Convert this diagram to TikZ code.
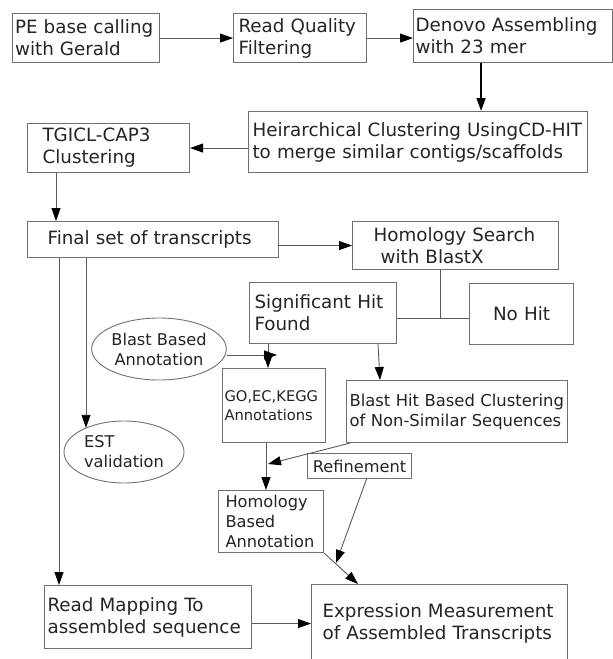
\documentclass[tikz,border=0pt]{standalone}
\usepackage{fontspec}
\setmainfont{DejaVu Sans}
\usetikzlibrary{arrows.meta,shapes.geometric}
\definecolor{boxline}{HTML}{707070}
\definecolor{wire}{HTML}{5A5A5A}
\definecolor{ink}{HTML}{242424}
\hyphenpenalty=10000
\exhyphenpenalty=10000
\newcommand{\bigtxt}{\fontsize{18.3}{22}\selectfont}
\newcommand{\smalltxt}{\fontsize{16.2}{20}\selectfont}
\tikzset{
  box/.style={draw=boxline, line width=1.1pt, rectangle, anchor=north west, align=left, text=ink, font=\bigtxt, inner ysep=0pt},
  oval/.style={draw=boxline, line width=0.9pt, ellipse, inner sep=0pt, text=ink, font=\smalltxt},
  arr/.style={draw=wire, line width=0.9pt, -{Triangle[length=13pt,width=9pt,color=black]}},
  wire/.style={draw=wire, line width=0.9pt},
}
\begin{document}
\begin{tikzpicture}[x=1pt,y=-1pt]
\useasboundingbox (0,0) rectangle (613,659);
\node[box, text width=142pt, inner xsep=2.5pt, minimum height=49pt] (pe) at (12,13) {PE base calling\\with Gerald};
\node[box, text width=123pt, inner xsep=5pt, minimum height=49pt] (rq) at (233,13) {Read Quality\\Filtering};
\node[box, text width=195pt, inner xsep=2pt, minimum height=53pt] (dn) at (413,9) {Denovo Assembling\\with 23 mer};
\node[box, text width=331pt, inner xsep=4pt, minimum height=61pt] (hc) at (248,111) {Heirarchical Clustering UsingCD-HIT\\to merge similar contigs/scaffolds};
\node[box, text width=132pt, inner xsep=15pt, minimum height=49pt] (tg) at (27,123) {TGICL-CAP3\\Clustering};
\node[box, text width=211pt, inner xsep=20pt, minimum height=36pt] (fs) at (27,221) {Final set of transcripts};
\node[box, text width=164pt, inner xsep=21pt, minimum height=48pt] (hs) at (352,221) {Homology Search\\\hspace*{7pt}with BlastX};
\node[box, text width=137pt, inner xsep=5pt, minimum height=61pt] (sh) at (249,282) {Significant Hit\\Found};
\node[box, text width=94pt, inner xsep=5pt, minimum height=61pt, align=center] (nh) at (469,283) {No Hit};
\node[oval, minimum width=118pt, minimum height=62pt, align=center] (bba) at (159,349) {Blast Based\\Annotation};
\node[box, text width=99pt, inner xsep=2pt, minimum height=74pt, font=\fontsize{14.7}{19}\selectfont] (go) at (222,368) {GO,EC,KEGG\\Annotations};
\node[box, text width=215pt, inner xsep=3pt, minimum height=62pt, font=\fontsize{16.4}{20}\selectfont] (bh) at (346,380) {Blast Hit Based Clustering\\of Non-Similar Sequences};
\node[oval, minimum width=120pt, minimum height=62pt, align=left] (est) at (124,452) {EST\\validation};
\node[box, minimum width=104pt, minimum height=25pt, inner xsep=0pt, align=center, font=\smalltxt] (ref) at (307,453) {Refinement};
\node[box, text width=91pt, inner xsep=7pt, minimum height=62pt, font=\smalltxt] (hba) at (218,490) {Homology\\Based\\Annotation};
\node[box, text width=201pt, inner xsep=3pt, minimum height=63pt] (rm) at (44,585) {Read Mapping To\\assembled sequence};
\node[box, text width=234pt, inner xsep=11pt, minimum height=78pt] (em) at (311,584) {Expression Measurement\\of Assembled Transcripts};
\coordinate (split) at (440,318);
\coordinate (bbaend) at (277,355);
\coordinate (mrg) at (268,464);
\coordinate (refend) at (336,563);
\draw[arr] (pe.east) -- (rq.west);
\draw[arr] (rq.east) -- (rq.east -| dn.west);
\draw[arr, draw=black, line width=1.6pt] ([xshift=-32pt]dn.south) -- ([xshift=-32pt]dn.south |- hc.north);
\draw[arr] (hc.west |- tg.east) -- (tg.east);
\draw[arr] ([xshift=29pt]tg.south west) -- ([xshift=29pt]tg.south west |- fs.north);
\draw[arr] (fs.east |- hs.west) -- (hs.west);
\draw[wire] (hs.south -| split) -- (split);
\draw[wire] (sh.east |- split) -- (nh.west |- split);
\draw[arr] ([xshift=19pt]sh.south west) -- ([xshift=19pt]sh.south west |- go.north);
\draw[arr] (bba.east |- bbaend) -- (bbaend);
\draw[arr] ([xshift=129pt]sh.south west) -- ([xshift=34pt]bh.north west);
\draw[arr] ([xshift=59pt]fs.south west) -- ([xshift=59pt]fs.south west |- est.148);
\draw[arr] ([xshift=32pt]fs.south west) -- ([xshift=32pt]fs.south west |- rm.north);
\draw[arr] ([xshift=44pt]go.south west) -- ([xshift=44pt]go.south west |- hba.north);
\draw[arr] ([xshift=4pt]bh.south west) -- (mrg);
\draw[arr] (hba.south east) -- ([xshift=47pt]em.north west);
\draw[arr] ([xshift=7pt]ref.south) -- (refend);
\draw[arr] (rm.east |- em.west) -- (em.west);
\end{tikzpicture}
\end{document}
